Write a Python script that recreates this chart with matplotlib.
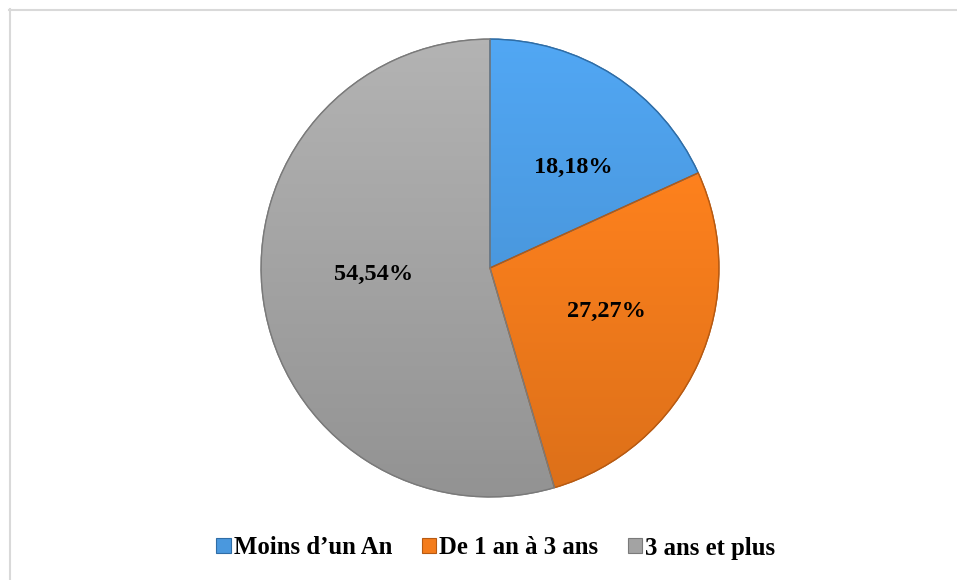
import matplotlib
matplotlib.use("Agg")
import matplotlib.pyplot as plt
from matplotlib.patches import Patch
from matplotlib.lines import Line2D
from matplotlib.colors import to_rgb
import numpy as np

categories = ["Moins d\u2019un An", "De 1 an \u00e0 3 ans", "3 ans et plus"]
values = [18.18, 27.27, 54.54]
labels = ["18,18%", "27,27%", "54,54%"]
colors = ["#4A98DE", "#F47C1C", "#A3A3A3"]
edge_colors = ["#2F6DA6", "#B75A12", "#7A7A7A"]

W, H = 957, 580
fig = plt.figure(figsize=(W / 100, H / 100), dpi=100)
fig.patch.set_facecolor("white")

# chart border (top and left visible)
fig.add_artist(Line2D([9 / W, 1.0], [1 - 9.5 / H, 1 - 9.5 / H], color="#D9D9D9", lw=1.5))
fig.add_artist(Line2D([9.5 / W, 9.5 / W], [0, 1 - 9 / H], color="#D9D9D9", lw=1.5))

cx, cy, R = 490, 268, 230
ax = fig.add_axes([(cx - R) / W, (H - cy - R) / H, 2 * R / W, 2 * R / H])
wedges, texts = ax.pie(values, colors=colors, startangle=90, counterclock=False,
                       radius=1.0, wedgeprops=dict(linewidth=1.0))

# vertical shading (lighter at top, darker at bottom)
yy = np.linspace(1, -1, 256)[:, None]
for w, c, ec in zip(wedges, colors, edge_colors):
    base = np.array(to_rgb(c))
    fac = 1 + 0.10 * yy
    img = np.clip(base[None, None, :] * fac[:, :, None], 0, 1)
    img = np.repeat(img, 2, axis=1)
    im = ax.imshow(img, extent=[-1, 1, -1, 1], origin="upper", zorder=w.get_zorder() + 0.1,
                   interpolation="bilinear", aspect="auto")
    im.set_clip_path(w)
    w.set_edgecolor(ec)
    outline = plt.matplotlib.patches.Wedge((0, 0), 1.0, w.theta1, w.theta2,
                                           facecolor="none", edgecolor=ec, linewidth=1.0,
                                           zorder=w.get_zorder() + 0.2)
    ax.add_patch(outline)

# label placement (style): radial distance and angular shift
dists = [0.57, 0.545, 0.51]
shifts = [-6.7, 4.1, -5.2]
for w, lab, d, s in zip(wedges, labels, dists, shifts):
    ang = np.deg2rad((w.theta1 + w.theta2) / 2 + s)
    ax.text(d * np.cos(ang), d * np.sin(ang), lab, ha="center", va="center", zorder=10,
            fontsize=17.5, fontweight="bold", family="Liberation Serif", color="black")

ax.set_xlim(-1.005, 1.005)
ax.set_ylim(-1.005, 1.005)
ax.set_aspect("equal")
ax.axis("off")

handles = [Patch(facecolor=c, edgecolor=e, linewidth=0.8) for c, e in zip(colors, edge_colors)]
leg = fig.legend(handles, categories, loc="center", bbox_to_anchor=(0.518, 1 - 548 / H),
                 ncol=3, frameon=False, handlelength=0.58, handleheight=0.58,
                 handletextpad=0.12, columnspacing=1.2,
                 prop=dict(family="Liberation Serif", weight="bold", size=17.8))

fig.savefig("out.png", dpi=100, facecolor="white")
